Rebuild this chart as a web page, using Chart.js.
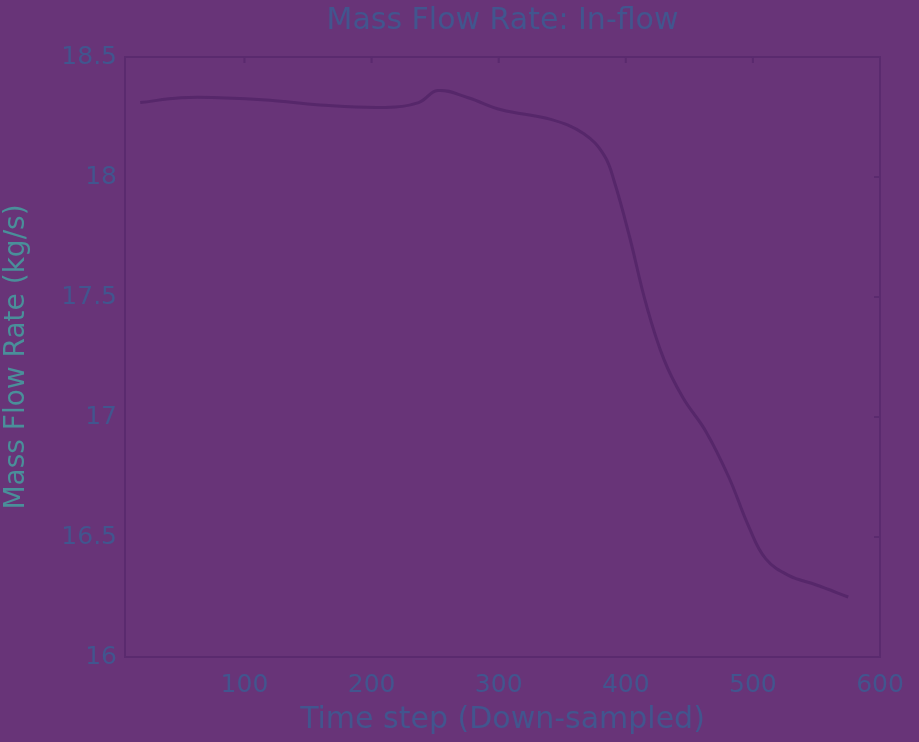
<!DOCTYPE html>
<html>
<head>
<meta charset="utf-8">
<script src="https://cdn.jsdelivr.net/npm/chart.js@4.4.0/dist/chart.umd.min.js"></script>
<style>
  html, body { margin: 0; padding: 0; background: #683478; }
  #wrap { width: 919px; height: 742px; }
</style>
</head>
<body>
<div id="wrap"><canvas id="c" width="919" height="742"></canvas></div>
<script>
const titleText = "Mass Flow Rate: In-flow";
const xTitle = "Time step (Down-sampled)";
const yTitle = "Mass Flow Rate (kg/s)";
const xTicks = [100, 200, 300, 400, 500, 600];
const yTicks = [16, 16.5, 17, 17.5, 18, 18.5];
const timeSteps = [18, 50, 80, 120, 159, 211, 237, 252, 276, 302, 341, 367, 383, 391, 403, 416, 430, 445, 463, 481, 497, 510, 528, 550, 575];
const massFlow = [18.31, 18.33, 18.33, 18.32, 18.30, 18.29, 18.31, 18.36, 18.33, 18.28, 18.24, 18.18, 18.09, 17.98, 17.75, 17.47, 17.24, 17.08, 16.94, 16.75, 16.54, 16.41, 16.34, 16.30, 16.25];

const textColor = '#42558e';
const frameColor = '#5a2a6e';

const frame = {
  id: 'frame',
  afterDraw(chart) {
    const a = chart.chartArea, ctx = chart.ctx;
    ctx.save();
    ctx.strokeStyle = frameColor;
    ctx.lineWidth = 2;
    ctx.strokeRect(a.left, a.top, a.right - a.left, a.bottom - a.top);
    const ys = chart.scales.y;
    yTicks.forEach(v => {
      const py = ys.getPixelForValue(v);
      ctx.beginPath(); ctx.moveTo(a.right, py); ctx.lineTo(a.right - 6, py); ctx.stroke();
    });
    const xs = chart.scales.x;
    xTicks.forEach(v => {
      const px = xs.getPixelForValue(v);
      ctx.beginPath(); ctx.moveTo(px, a.top); ctx.lineTo(px, a.top + 6); ctx.stroke();
    });
    ctx.fillStyle = textColor;
    ctx.font = '30px "DejaVu Sans"';
    ctx.textAlign = 'center';
    ctx.textBaseline = 'middle';
    ctx.fillText(titleText, (a.left + a.right) / 2, 21);
    ctx.restore();
  }
};

new Chart(document.getElementById('c'), {
  type: 'line',
  data: {
    datasets: [{
      data: timeSteps.map((t, i) => ({ x: t, y: massFlow[i] })),
      borderColor: '#56276a',
      borderWidth: 3,
      pointRadius: 0,
      tension: 0.4,
      fill: false
    }]
  },
  options: {
    responsive: false,
    animation: false,
    layout: { padding: { left: 0, right: 39, top: 57, bottom: 0 } },
    plugins: {
      legend: { display: false },
      tooltip: { enabled: false },
      title: { display: false }
    },
    scales: {
      x: {
        type: 'linear', min: 6, max: 600,
        afterBuildTicks: s => { s.ticks = xTicks.map(v => ({ value: v })); },
        afterFit: s => { s.height = 85; },
        grid: { display: false, drawTicks: true, tickLength: 6, tickColor: frameColor },
        border: { display: false },
        ticks: { color: textColor, font: { family: 'DejaVu Sans', size: 25 }, maxRotation: 0, padding: 7 },
        title: { display: true, text: xTitle, color: textColor, font: { family: 'DejaVu Sans', size: 30 }, padding: { top: 0, bottom: 4 } }
      },
      y: {
        type: 'linear', min: 16, max: 18.5,
        afterBuildTicks: s => { s.ticks = yTicks.map(v => ({ value: v })); },
        afterFit: s => { s.width = 125; },
        grid: { display: false, drawTicks: true, tickLength: 6, tickColor: frameColor },
        border: { display: false },
        ticks: { color: textColor, font: { family: 'DejaVu Sans', size: 25 }, padding: 2, callback: v => String(v) },
        title: { display: true, text: yTitle, color: '#4a8f9a', font: { family: 'DejaVu Sans', size: 28 }, padding: { top: 0, bottom: 4 } }
      }
    }
  },
  plugins: [frame]
});
</script>
</body>
</html>
